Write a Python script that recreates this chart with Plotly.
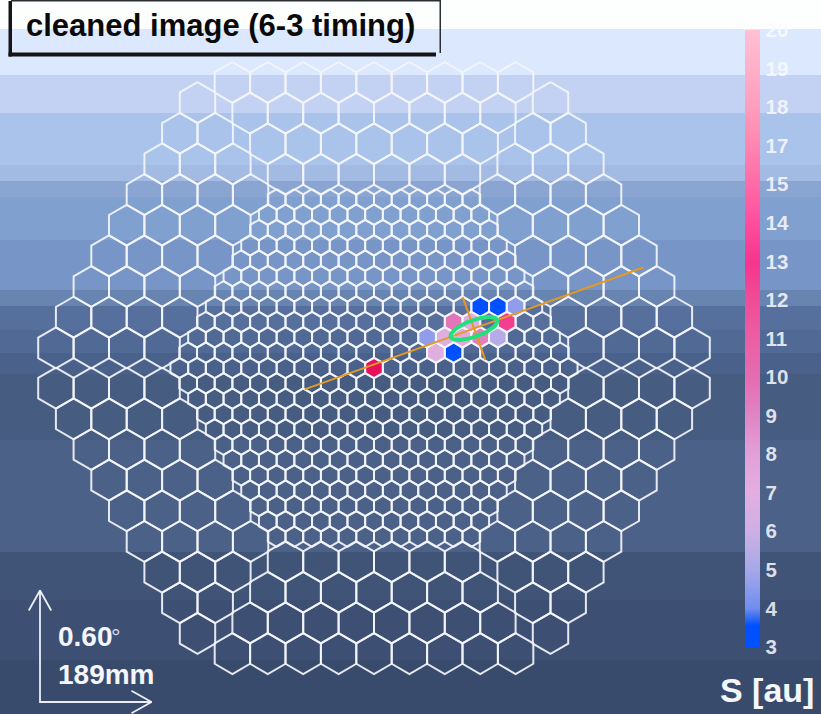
import numpy as np
import plotly.graph_objects as go
from plotly.colors import sample_colorscale

# ---------- data ----------
title_text = "cleaned image (6-3 timing)"
scale_deg_text = "0.60"
scale_mm_text = "189mm"
colorbar_title = "S [au]"
tick_labels = [3, 4, 5, 6, 7, 8, 9, 10, 11, 12, 13, 14, 15, 17, 18, 19, 20]

# inner camera lattice indices (column, row) and signal of the lit pixels
lit_col = [0, 6, 7, 8, 4.5, 5.5, 7.5, 3, 4, 5, 6, 7, 3.5, 4.5]
lit_row = [0, 4, 4, 4, 3, 3, 3, 2, 2, 2, 2, 2, 1, 1]
lit_S = [22, 3, 3, 4.6, 9.6, 7.2, 12.6, 4.6, 6.8, 7.5, 9.2, 5.4, 6.9, 3.2]

# Hillas ellipse (mm)
cog_x = 169.5
cog_y = 67.0
hillas_length = 42.0
hillas_width = 14.0
hillas_delta_deg = 19.8
major_half = 305.0
minor_half = 56.5

# camera geometry (mm)
inner_pitch = 30.0
inner_rings = 11
outer_pitch = 60.0
outer_row_counts = [9, 8, 7, 6]
outer_top_y = 484.0
arrow_mm = 189.0

# background bands: upper edges (px) and colours
band_edges = [0, 29, 75, 113, 165, 181, 197, 240, 290, 306, 330, 353, 374, 440, 552, 600, 660, 714]
band_colors = ["#FDFFFF", "#DCE8FE", "#C3D2F2", "#A9C3EA", "#A3BBE3", "#8BA5D2", "#80A0CF",
               "#7795C6", "#6884B0", "#566F9C", "#516A95", "#4A628B", "#465C80", "#4C6187",
               "#405477", "#3D5073", "#394B6C"]

colorscale = [[0.0, "#0050FF"], [0.035, "#0050FF"], [0.05, "#3F72F0"], [0.0625, "#6F8DF0"],
              [0.125, "#A6A8E8"], [0.1875, "#CDB0E4"], [0.25, "#E3AEE0"], [0.3125, "#E3A0D8"],
              [0.375, "#E084C4"], [0.4375, "#E46CB0"], [0.5, "#EC5EA4"], [0.5625, "#F04C98"],
              [0.625, "#F5358E"], [0.6875, "#FF4E9D"], [0.75, "#FF6AA8"], [0.8125, "#FF85B0"],
              [0.875, "#FF9DBE"], [0.9375, "#FFAFC9"], [1.0, "#FFC0D5"]]
overflow_color = "#E6105F"

# ---------- page / axis mapping ----------
W, H = 821, 714
CX, CY, PX_PER_MM = 374.0, 368.0, 0.59
xrange_mm = [(0 - CX) / PX_PER_MM, (W - CX) / PX_PER_MM]
yrange_mm = [(CY - H) / PX_PER_MM, CY / PX_PER_MM]


def fx(px):
    return px / W


def fy(py):
    return 1 - py / H


def hex_ring(x, y, pitch):
    r = pitch / np.sqrt(3)
    a = np.radians(np.arange(0, 361, 60) + 90)
    return x + r * np.cos(a), y + r * np.sin(a)


def outline(centers, pitch):
    xs, ys = [], []
    for (x, y) in centers:
        hx, hy = hex_ring(x, y, pitch)
        xs += list(hx) + [None]
        ys += list(hy) + [None]
    return xs, ys


# lattices
inner_centers = []
row_h = inner_pitch * np.sqrt(3) / 2
for r in range(-inner_rings, inner_rings + 1):
    n = 2 * inner_rings + 1 - abs(r)
    for i in range(n):
        inner_centers.append(((i - (n - 1) / 2) * inner_pitch, r * row_h))

outer_centers = []
outer_h = outer_pitch * np.sqrt(3) / 2
for s in range(6):
    t = np.radians(60 * s)
    for j, n in enumerate(outer_row_counts):
        y = outer_top_y - j * outer_h
        for i in range(n):
            x = (i - (n - 1) / 2) * outer_pitch
            outer_centers.append((x * np.cos(t) - y * np.sin(t), x * np.sin(t) + y * np.cos(t)))

fig = go.Figure()

# lit pixels
positions = np.arange(len(tick_labels))
for c, r, s in zip(lit_col, lit_row, lit_S):
    if s > tick_labels[-1]:
        color = overflow_color
    else:
        frac = np.interp(s, tick_labels, positions) / positions[-1]
        color = sample_colorscale(colorscale, [frac])[0]
    hx, hy = hex_ring(c * inner_pitch, r * row_h, inner_pitch)
    fig.add_trace(go.Scatter(x=hx, y=hy, mode="lines", fill="toself", fillcolor=color,
                             line=dict(width=0), hoverinfo="skip", showlegend=False))

# grid
grid_line = dict(color="rgba(243,245,251,0.92)", width=2.0)
ox, oy = outline(outer_centers, outer_pitch)
ix, iy = outline(inner_centers, inner_pitch)
fig.add_trace(go.Scatter(x=ox, y=oy, mode="lines", line=grid_line, hoverinfo="skip", showlegend=False))
fig.add_trace(go.Scatter(x=ix, y=iy, mode="lines", line=grid_line, hoverinfo="skip", showlegend=False))

# Hillas axes and ellipse
d = np.radians(hillas_delta_deg)
orange = dict(color="#E49A22", width=2)
fig.add_trace(go.Scatter(x=[cog_x - major_half * np.cos(d), cog_x + major_half * np.cos(d)],
                         y=[cog_y - major_half * np.sin(d), cog_y + major_half * np.sin(d)],
                         mode="lines", line=orange, hoverinfo="skip", showlegend=False))
fig.add_trace(go.Scatter(x=[cog_x + minor_half * np.sin(d), cog_x - minor_half * np.sin(d)],
                         y=[cog_y - minor_half * np.cos(d), cog_y + minor_half * np.cos(d)],
                         mode="lines", line=orange, hoverinfo="skip", showlegend=False))
t = np.linspace(0, 2 * np.pi, 90)
ex = cog_x + hillas_length * np.cos(t) * np.cos(d) - hillas_width * np.sin(t) * np.sin(d)
ey = cog_y + hillas_length * np.cos(t) * np.sin(d) + hillas_width * np.sin(t) * np.cos(d)
fig.add_trace(go.Scatter(x=ex, y=ey, mode="lines", line=dict(color="#22E07A", width=4),
                         hoverinfo="skip", showlegend=False))

# scale arrows
ax0 = (40 - CX) / PX_PER_MM
ay0 = (CY - 702) / PX_PER_MM
wing_along, wing_side = 34.0, 19.0
arrow = dict(color="rgba(245,247,252,0.95)", width=1.8)
fig.add_trace(go.Scatter(
    x=[ax0 - wing_side, ax0, ax0 + wing_side, None, ax0, ax0, ax0 + arrow_mm, None,
       ax0 + arrow_mm - wing_along, ax0 + arrow_mm, ax0 + arrow_mm - wing_along],
    y=[ay0 + arrow_mm - wing_along, ay0 + arrow_mm, ay0 + arrow_mm - wing_along, None,
       ay0 + arrow_mm, ay0, ay0, None, ay0 + wing_side, ay0, ay0 - wing_side],
    mode="lines", line=arrow, hoverinfo="skip", showlegend=False))

# colour bar
fig.add_trace(go.Scatter(
    x=[0, 0], y=[0, 0], mode="markers", hoverinfo="skip", showlegend=False,
    marker=dict(size=0.1, opacity=0, color=[0, len(tick_labels) - 1], cmin=0, cmax=len(tick_labels) - 1,
                colorscale=colorscale,
                colorbar=dict(thickness=15, thicknessmode="pixels", len=617, lenmode="pixels",
                              x=fx(745), xanchor="left", xpad=0, y=fy(30), yanchor="top", ypad=0,
                              outlinewidth=0, borderwidth=0, ticks="outside", ticklen=2,
                              tickcolor="rgba(0,0,0,0)", tickwidth=1,
                              tickvals=list(positions), ticktext=[str(v) for v in tick_labels],
                              tickfont=dict(family="Liberation Sans", size=20.5, weight="bold",
                                            color="rgba(250,250,255,0.85)")))))

# background and label box
shapes = []
for i, col in enumerate(band_colors):
    shapes.append(dict(type="rect", xref="paper", yref="paper", x0=0, x1=1,
                       y0=fy(band_edges[i + 1]), y1=fy(band_edges[i]),
                       fillcolor=col, line=dict(width=0), layer="below"))
dark = "#151515"
shapes += [
    dict(type="rect", xref="paper", yref="paper", x0=fx(8.5), x1=fx(12), y0=fy(56.5), y1=fy(1),
         fillcolor=dark, line=dict(width=0)),
    dict(type="rect", xref="paper", yref="paper", x0=fx(8.5), x1=fx(436), y0=fy(56.5), y1=fy(52.5),
         fillcolor=dark, line=dict(width=0)),
    dict(type="rect", xref="paper", yref="paper", x0=fx(439.5), x1=fx(441), y0=fy(53), y1=fy(0),
         fillcolor="#2A2F33", line=dict(width=0)),
    dict(type="rect", xref="paper", yref="paper", x0=fx(11), x1=fx(441), y0=fy(1.5), y1=fy(0),
         fillcolor="#2A2F33", line=dict(width=0)),
]


def label(px, py, text, size, color="#F5F6FA", xanchor="left", bold=True):
    return dict(xref="paper", yref="paper", x=fx(px), y=fy(py), text=text, showarrow=False,
                xanchor=xanchor, yanchor="middle", xshift=0, yshift=0, borderpad=0, borderwidth=0,
                font=dict(family="Liberation Sans", size=size, color=color,
                          weight="bold" if bold else "normal"))


annotations = [
    label(26, 26, title_text, 31, color="#0A0A0A"),
    label(58, 636, scale_deg_text, 28),
    label(111, 636, "°", 24, color="#D8DCE6", bold=False),
    label(58, 674, scale_mm_text, 28),
    label(720, 690, colorbar_title, 34),
]

fig.update_layout(
    width=W, height=H, margin=dict(l=0, r=0, t=0, b=0, pad=0),
    paper_bgcolor="rgba(0,0,0,0)", plot_bgcolor="rgba(0,0,0,0)",
    xaxis=dict(range=xrange_mm, visible=False, fixedrange=True),
    yaxis=dict(range=yrange_mm, visible=False, fixedrange=True),
    shapes=shapes, annotations=annotations, showlegend=False,
)

fig.write_html("out.html", post_script="document.body.style.margin='0';document.documentElement.style.overflow='hidden';",
               config={"displayModeBar": False})
